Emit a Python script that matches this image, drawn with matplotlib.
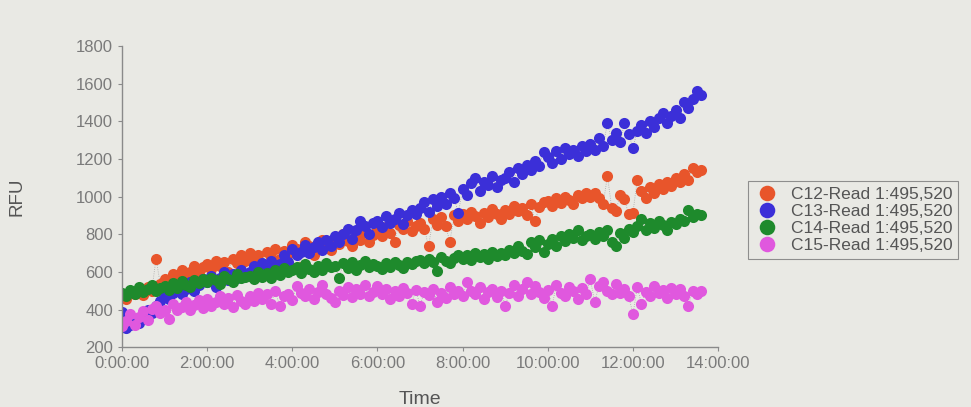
import numpy as np
import matplotlib.pyplot as plt

# plate reader, one read every 6 minutes (hours on the x axis)
READ_STEP_H = 0.1

c12 = [470, 455, 495, 480, 505, 475, 520, 500, 670, 535,
       560, 540, 590, 575, 610, 560, 600, 630, 590, 625,
       640, 615, 660, 630, 650, 600, 670, 645, 690, 660,
       700, 665, 690, 640, 705, 680, 720, 670, 710, 695,
       745, 720, 625, 760, 735, 690, 750, 770, 740, 715,
       780, 750, 800, 765, 740, 790, 770, 810, 760, 795,
       820, 790, 840, 805, 760, 850, 830, 870, 815, 845,
       860, 830, 735, 880, 850, 890, 845, 760, 900, 870,
       905, 880, 920, 895, 860, 915, 890, 935, 905, 880,
       930, 910, 950, 925, 940, 900, 960, 870, 945, 970,
       975, 950, 990, 965, 1000, 980, 960, 1010, 990, 1020,
       1000, 1020, 990, 960, 1110, 940, 925, 1010, 985, 905,
       915, 1090, 1030, 995, 1050, 1020, 1065, 1040, 1080, 1055,
       1100, 1075, 1120, 1090, 1150, 1130, 1140]

c13 = [385, 300, 320, 345, 330, 370, 395, 380, 420, 445,
       470, 455, 490, 520, 480, 510, 545, 500, 530, 560,
       545, 580, 520, 565, 600, 555, 590, 570, 610, 585,
       600, 630, 595, 645, 620, 660, 615, 640, 690, 655,
       720, 690, 705, 745, 700, 730, 760, 715, 770, 740,
       790, 760, 800, 830, 775, 820, 870, 845, 800, 860,
       870, 840, 895, 860, 880, 915, 855, 900, 930, 910,
       940, 970, 920, 985, 950, 1000, 960, 1020, 990, 915,
       1040, 1010, 1070, 1100, 1030, 1080, 1060, 1110, 1050, 1090,
       1100, 1130, 1080, 1150, 1120, 1170, 1140, 1190, 1160, 1235,
       1210, 1180, 1240, 1200, 1260, 1225, 1250, 1215, 1270, 1240,
       1280, 1250, 1310, 1270, 1390, 1300, 1340, 1290, 1390, 1330,
       1260, 1350, 1380, 1340, 1400, 1370, 1420, 1445, 1390, 1430,
       1460, 1420, 1500, 1470, 1520, 1560, 1540]

c14 = [490, 470, 505, 480, 520, 495, 510, 530, 500, 515,
       525, 505, 540, 515, 550, 530, 520, 555, 540, 560,
       545, 570, 555, 535, 580, 560, 545, 590, 565, 575,
       580, 560, 600, 575, 595, 570, 610, 585, 620, 600,
       610, 625, 595, 640, 615, 600, 630, 610, 645, 625,
       630, 570, 645, 620, 650, 610, 635, 660, 625, 640,
       630, 615, 645, 625, 650, 635, 620, 655, 640, 660,
       665, 645, 670, 650, 605, 680, 660, 645, 675, 690,
       670, 690, 665, 700, 680, 695, 670, 705, 685, 700,
       690, 715, 700, 740, 710, 695, 760, 730, 770, 705,
       750, 775, 740, 790, 765, 800, 780, 825, 770, 790,
       800, 775, 810, 790, 820, 760, 735, 805, 780, 830,
       810, 845, 880, 825, 860, 835, 870, 850, 820, 865,
       855, 880, 870, 930, 890, 910, 900]

c15 = [310, 340, 375, 320, 360, 390, 345, 405, 420, 380,
       400, 350, 430, 395, 415, 440, 400, 425, 450, 410,
       455, 420, 440, 470, 430, 460, 415, 475, 445, 430,
       470, 445, 490, 455, 480, 430, 500, 420, 470, 485,
       450, 525, 490, 470, 510, 455, 495, 530, 480, 460,
       440, 500, 475, 520, 465, 510, 485, 530, 470, 495,
       525, 480, 510, 455, 500, 470, 515, 490, 430, 505,
       420, 495, 475, 510, 440, 490, 460, 520, 485, 500,
       470, 545, 500, 480, 520, 455, 495, 510, 465, 500,
       420, 490, 530, 470, 510, 545, 480, 525, 495, 460,
       505, 420, 530, 490, 470, 520, 500, 455, 515, 480,
       560, 440, 525, 545, 500, 480, 535, 490, 510, 470,
       375, 520, 430, 495, 470, 525, 490, 505, 460, 515,
       480, 510, 470, 420, 500, 485, 500]

labels = ['C12-Read 1:495,520', 'C13-Read 1:495,520',
          'C14-Read 1:495,520', 'C15-Read 1:495,520']
colors = ['#e8552b', '#3b2fd8', '#1e8a2c', '#e058de']
x_ticks = [0, 2, 4, 6, 8, 10, 12, 14]
y_ticks = [200, 400, 600, 800, 1000, 1200, 1400, 1600, 1800]

plt.rcParams['font.family'] = ['Liberation Sans', 'DejaVu Sans']
bg = '#e9e9e4'
fig = plt.figure(figsize=(9.71, 4.07), dpi=100, facecolor=bg)
ax = fig.add_axes([0.1256, 0.147, 0.614, 0.74], facecolor=bg)

for series, color, label in zip([c12, c13, c14, c15], colors, labels):
    t = np.arange(len(series)) * READ_STEP_H
    # faint dotted trace behind the dots
    ax.plot(t, series, linestyle=':', color='#a8a8a8', lw=0.6, zorder=1)
    ax.plot(t, series, linestyle='none', marker='o', ms=8, mew=0,
            color=color, label=label, zorder=2)

ax.set_xlim(0, 14)
ax.set_ylim(200, 1800)
ax.set_xticks(x_ticks)
ax.set_xticklabels(['{}:00:00'.format(h) for h in x_ticks])
ax.set_yticks(y_ticks)

for side in ['top', 'right']:
    ax.spines[side].set_visible(False)
for side in ['left', 'bottom']:
    ax.spines[side].set_color('#8a8a8a')
    ax.spines[side].set_linewidth(1.0)
ax.tick_params(colors='#8a8a8a', labelcolor='#7a7a7a', labelsize=12, length=3)

ax.set_xlabel('Time', fontsize=14, color='#555555', labelpad=14)
ax.set_ylabel('RFU', fontsize=13.5, color='#555555', labelpad=36)

leg = fig.legend(loc='upper left', bbox_to_anchor=(0.761, 0.576), fontsize=12.5,
                 frameon=True, fancybox=False, markerscale=1.4, handlelength=1.6,
                 labelspacing=0.12, borderpad=0.3, handletextpad=0.6)
leg.get_frame().set_edgecolor('#777777')
leg.get_frame().set_facecolor(bg)
leg.get_frame().set_linewidth(0.8)
for text in leg.get_texts():
    text.set_color('#555555')

plt.savefig('out.png', facecolor=bg)
